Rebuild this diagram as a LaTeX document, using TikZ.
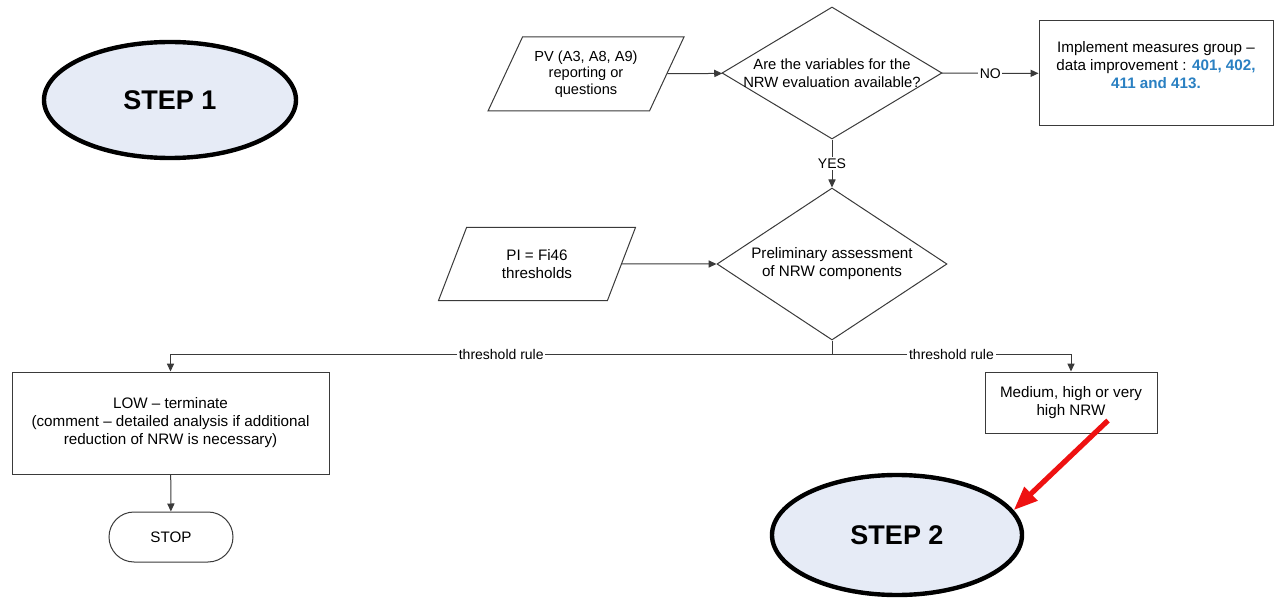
\documentclass[tikz,border=0pt]{standalone}
\usepackage{fontspec}
\setmainfont{Liberation Sans}
\usetikzlibrary{arrows.meta,positioning,calc,shapes.geometric}
\definecolor{fcline}     {HTML}{3A3A3A}
\definecolor{fcstepfill} {HTML}{E6EBF6}
\definecolor{fcblue}     {HTML}{2A80C2}
\definecolor{fcred}      {HTML}{EE1111}
\tikzset{
  fcbase/.style={draw=fcline, line width=0.5pt, fill=white, align=center,
                 font=\fontsize{7.6}{9}\selectfont, inner sep=2pt},
  fcbox/.style={fcbase, rectangle},
  fcdecision/.style={fcbase, diamond, aspect=2, inner sep=0pt},
  fcdata/.style={fcbase, trapezium, trapezium stretches=true, inner sep=1pt},
  fcstep/.style={ellipse, draw=black, line width=2.2pt, fill=fcstepfill,
                 font=\fontsize{13.5}{16}\selectfont\bfseries},
  fcwire/.style={draw=fcline, line width=0.5pt},
  fcflow/.style={fcwire, -{Triangle[length=4pt,width=3.6pt]}},
  fclabel/.style={fill=white, inner sep=0.8pt, font=\fontsize{7}{8}\selectfont},
  fcalert/.style={-{Triangle[length=12pt,width=9pt]}, draw=fcred, line width=2.6pt},
}
\begin{document}
\begin{tikzpicture}[x=0.5pt,y=-0.5pt]
  \useasboundingbox (0,0) rectangle (1276,599);
  \node[fcstep, minimum width=126pt, minimum height=58pt] (step1) at (170,100) {STEP 1};
  \node[fcdata, trapezium left angle=60, trapezium right angle=120,
        minimum width=98pt, minimum height=37pt, font=\fontsize{7.3}{8.2}\selectfont]
        (pv) at (586,74) {PV (A3, A8, A9)\\reporting or\\questions};
  \node[fcdecision, aspect=1.667, inner xsep=-3pt, minimum width=110pt, minimum height=66pt,
        font=\fontsize{7.4}{9}\selectfont] (avail) at (832,73)
        {Are the variables for the\\NRW evaluation available?};
  \node[fcbox, minimum width=117pt, minimum height=52.5pt] (improve) at (1156,73.5)
        {Implement measures group --\\data improvement : \textcolor{fcblue}{\bfseries 401, 402,}\\
         \textcolor{fcblue}{\bfseries 411 and 413.}\\~};
  \node[fcdata, trapezium left angle=66, trapezium right angle=114,
        minimum width=99pt, minimum height=36.5pt] (pi) at (537,264) {PI = Fi46\\thresholds};
  \node[fcdecision, minimum width=115pt, minimum height=76pt] (assess) at (832,264)
        {Preliminary assessment\\of NRW components};
  \coordinate (split) at (832,354);
  \node[fcbox, minimum width=158.5pt, minimum height=51pt] (low) at (170.5,423)
        {LOW -- terminate\\(comment -- detailed analysis if additional\\reduction of NRW is necessary)};
  \node[fcbox, rounded corners=12.5pt, minimum width=62pt, minimum height=25pt] (stop) at (171,537) {STOP};
  \node[fcbox, minimum width=86pt, minimum height=30.5pt] (med) at (1071,402.5) {Medium, high or very\\high NRW};
  \node[fcstep, minimum width=125pt, minimum height=60pt] (step2) at (897,535) {STEP 2};
  % connectors
  \draw[fcflow] (pv) -- (avail);
  \draw[fcflow] (avail) -- node[fclabel] {NO} (improve);
  \draw[fcflow] (avail) -- node[fclabel] {YES} (assess);
  \draw[fcflow] (pi) -- (assess);
  \draw[fcwire] (assess.south) -- (split);
  \draw[fcflow] (split) -| node[fclabel, pos=0.25] {threshold rule} (low.north);
  \draw[fcflow] (split) -| node[fclabel, pos=0.25] {threshold rule} (med.north);
  \draw[fcflow] (low) -- (stop);
  \draw[fcalert] ($(med)+(37,18)$) -- (step2.12);
\end{tikzpicture}
\end{document}
